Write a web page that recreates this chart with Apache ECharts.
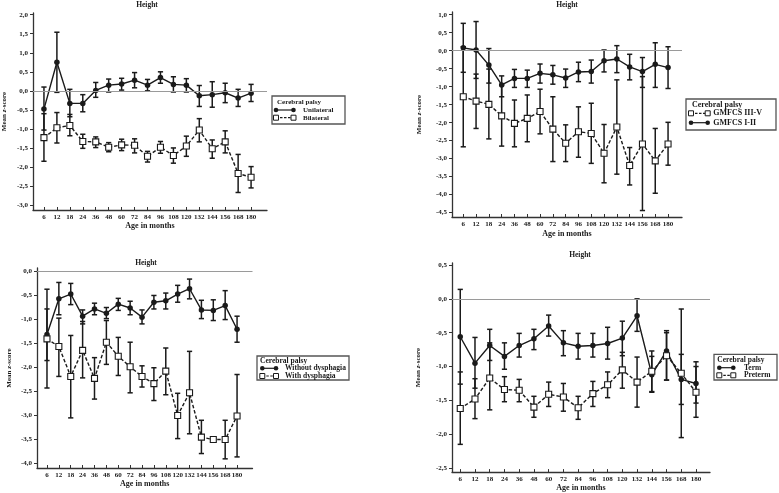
<!DOCTYPE html>
<html><head><meta charset="utf-8">
<script src="https://cdn.jsdelivr.net/npm/echarts@6/dist/echarts.min.js"></script>
<style>html,body{margin:0;padding:0;background:#fff}#c{width:779px;height:493px}</style>
</head><body><div id="c"></div>
<script>
// ---- categories ----
const months = ['6','12','18','24','36','48','60','72','84','96','108','120','132','144','156','168','180'];

// ---- Panel 1: Unilateral / Bilateral ----
const uniMean = [-0.48, 0.75, -0.33, -0.33, 0.01, 0.15, 0.18, 0.28, 0.15, 0.35, 0.17, 0.15, -0.13, -0.10, -0.05, -0.19, -0.06];
const uniHigh = [0.10, 1.54, 0.04, -0.10, 0.22, 0.31, 0.33, 0.48, 0.30, 0.50, 0.37, 0.32, 0.14, 0.24, 0.20, 0.04, 0.17];
const uniLow  = [-1.03, -0.04, -0.68, -0.55, -0.17, -0.03, 0.02, 0.08, 0.00, 0.20, -0.03, -0.03, -0.41, -0.43, -0.31, -0.41, -0.28];
const bilMean = [-1.23, -0.97, -0.91, -1.33, -1.34, -1.48, -1.42, -1.43, -1.72, -1.48, -1.70, -1.45, -1.03, -1.52, -1.34, -2.17, -2.27];
const bilHigh = [-0.60, -0.57, -0.62, -1.14, -1.21, -1.36, -1.27, -1.26, -1.59, -1.33, -1.50, -1.19, -0.73, -1.29, -1.05, -1.67, -1.99];
const bilLow  = [-1.85, -1.37, -1.18, -1.51, -1.49, -1.60, -1.57, -1.63, -1.87, -1.64, -1.90, -1.72, -1.34, -1.77, -1.63, -2.67, -2.55];

// ---- Panel 2: GMFCS I-II / GMFCS III-V ----
const g12Mean = [0.08, 0.02, -0.40, -0.95, -0.77, -0.77, -0.63, -0.67, -0.76, -0.59, -0.58, -0.28, -0.23, -0.45, -0.58, -0.38, -0.47];
const g12High = [0.76, 0.81, 0.06, -0.70, -0.52, -0.54, -0.37, -0.41, -0.51, -0.32, -0.26, 0.02, 0.14, -0.10, -0.19, 0.22, 0.11];
const g12Low  = [-0.60, -0.77, -0.90, -1.28, -1.02, -1.02, -0.90, -0.93, -1.02, -0.86, -0.90, -0.59, -0.61, -0.81, -1.02, -1.02, -1.05];
const g35Mean = [-1.28, -1.40, -1.49, -1.81, -2.02, -1.88, -1.69, -2.18, -2.57, -2.25, -2.30, -2.85, -2.12, -3.19, -2.59, -3.06, -2.59];
const g35High = [0.11, -0.65, -0.51, -0.95, -1.37, -1.23, -1.07, -1.28, -2.06, -1.56, -1.46, -2.05, -0.81, -2.69, -0.72, -2.16, -1.99];
const g35Low  = [-2.67, -2.16, -2.45, -2.65, -2.67, -2.53, -2.31, -3.08, -3.08, -2.96, -3.13, -3.67, -3.43, -3.73, -4.44, -3.96, -3.18];

// ---- Panel 3: Without / With dysphagia ----
const woMean = [-1.32, -0.58, -0.48, -0.94, -0.79, -0.88, -0.69, -0.77, -0.96, -0.65, -0.62, -0.48, -0.37, -0.81, -0.82, -0.72, -1.21];
const woHigh = [-0.79, -0.24, -0.26, -0.81, -0.67, -0.76, -0.57, -0.63, -0.81, -0.51, -0.46, -0.30, -0.17, -0.61, -0.60, -0.41, -0.94];
const woLow  = [-1.86, -0.91, -0.70, -1.10, -0.91, -0.99, -0.82, -0.91, -1.10, -0.79, -0.79, -0.65, -0.58, -0.99, -1.03, -1.01, -1.48];
const wdMean = [-1.41, -1.57, -2.19, -1.65, -2.23, -1.48, -1.77, -1.99, -2.19, -2.34, -2.08, -3.00, -2.53, -3.45, -3.50, -3.50, -3.01];
const wdHigh = [-0.38, -0.98, -1.34, -1.05, -1.80, -1.03, -1.38, -1.48, -1.97, -2.01, -1.60, -2.54, -1.67, -3.10, null, -3.10, -2.15];
const wdLow  = [-2.43, -2.19, -3.05, -2.22, -2.66, -1.94, -2.17, -2.53, -2.41, -2.69, -2.57, -3.48, -3.38, -3.79, null, -3.90, -3.86];

// ---- Panel 4: Term / Preterm ----
const termMean = [-0.56, -0.95, -0.69, -0.85, -0.69, -0.59, -0.40, -0.65, -0.70, -0.69, -0.66, -0.58, -0.25, -1.12, -0.77, -1.19, -1.25];
const termHigh = [0.14, -0.57, -0.45, -0.65, -0.51, -0.45, -0.24, -0.47, -0.51, -0.51, -0.42, -0.33, 0.00, -0.85, -0.50, -0.82, -0.93];
const termLow  = [-1.26, -1.32, -0.91, -1.04, -0.86, -0.75, -0.55, -0.84, -0.89, -0.86, -0.89, -0.84, -0.48, -1.38, -1.20, -1.56, -1.54];
const preMean = [-1.62, -1.48, -1.17, -1.34, -1.35, -1.60, -1.41, -1.45, -1.61, -1.40, -1.27, -1.05, -1.23, -1.07, -0.84, -1.10, -1.38];
const preHigh = [-1.08, -1.18, -0.65, -1.15, -1.19, -1.44, -1.23, -1.25, -1.44, -1.22, -1.08, -0.79, -0.86, -0.77, -0.47, -0.15, -1.00];
const preLow  = [-2.15, -1.77, -1.64, -1.52, -1.52, -1.75, -1.59, -1.66, -1.78, -1.59, -1.46, -1.32, -1.60, -1.37, -1.20, -2.05, -1.75];

// ---- text ----
const titleText = 'Height';
const xName = 'Age in months';
const legendTitle = 'Cerebral palsy';

const FONT = '"Liberation Serif", "DejaVu Serif", serif';
const INK = '#1a1a1a';
const idx = months.map((m, i) => i);

function fmt(v) {
  if (Math.abs(v) < 1e-9) return '0,0';
  return v.toFixed(1).replace('.', ',');
}
function range(a, b, s) { const r = []; for (let v = a; v <= b + 1e-9; v += s) r.push(Math.round(v * 10) / 10); return r; }

const panels = [
  { grid: {left: 32, top: 13, width: 235, height: 197}, xmin: -0.846, xmax: 17.23, ymin: -3.13, ymax: 2.045,
    yt: range(-3, 2, 0.5), yGap: 25, xGap: 12, title: [147, 5],
    series: [
      {name: 'Unilateral', mean: uniMean, hi: uniHigh, lo: uniLow, filled: true},
      {name: 'Bilateral', mean: bilMean, hi: bilHigh, lo: bilLow, filled: false}],
    zero: true },
  { grid: {left: 452, top: 12, width: 230, height: 205}, xmin: -0.88, xmax: 17.09, ymin: -4.62, ymax: 1.075,
    yt: range(-4.5, 1, 0.5), yGap: 29, xGap: 13, title: [567, 5],
    series: [
      {name: 'GMFCS I-II', mean: g12Mean, hi: g12High, lo: g12Low, filled: true},
      {name: 'GMFCS III-V', mean: g35Mean, hi: g35High, lo: g35Low, filled: false}],
    zero: true },
  { grid: {left: 37, top: 268, width: 215.5, height: 200}, xmin: -0.84, xmax: 17.3, ymin: -4.09, ymax: 0.06,
    yt: range(-4, 0, 0.5), yGap: 24, xGap: 10, title: [146, 263],
    series: [
      {name: 'Without dysphagia', mean: woMean, hi: woHigh, lo: woLow, filled: true},
      {name: 'With dysphagia', mean: wdMean, hi: wdHigh, lo: wdLow, filled: false}],
    zero: true },
  { grid: {left: 452, top: 263, width: 258, height: 210}, xmin: -0.56, xmax: 16.95, ymin: -2.56, ymax: 0.53,
    yt: range(-2.5, 0.5, 0.5), yGap: 30, xGap: 10, title: [580, 255],
    series: [
      {name: 'Term', mean: termMean, hi: termHigh, lo: termLow, filled: true},
      {name: 'Preterm', mean: preMean, hi: preHigh, lo: preLow, filled: false}],
    zero: true }
];

const grids = [], xAxes = [], yAxes = [], series = [], graphics = [];

panels.forEach((p, k) => {
  grids.push(Object.assign({containLabel: false}, p.grid));
  xAxes.push({
    type: 'value', gridIndex: k, min: p.xmin, max: p.xmax,
    name: xName, nameLocation: 'middle', nameGap: p.xGap,
    nameTextStyle: {fontFamily: FONT, fontWeight: 'bold', fontSize: 8, color: INK, verticalAlign: 'top'},
    axisLine: {show: true, onZero: false, lineStyle: {color: '#333', width: 1.3}},
    axisTick: {show: true, inside: true, length: 3, customValues: idx, lineStyle: {color: '#333', width: 1}},
    axisLabel: {customValues: idx, formatter: v => months[Math.round(v)], fontFamily: FONT, fontWeight: 'bold',
      fontSize: 7, color: INK, margin: 4},
    splitLine: {show: false}
  });
  yAxes.push({
    type: 'value', gridIndex: k, min: p.ymin, max: p.ymax,
    name: '{b|Mean }{i|z}{b|-score}', nameLocation: 'middle', nameGap: p.yGap, nameRotate: 90,
    nameTextStyle: {rich: {
      b: {fontFamily: FONT, fontWeight: 'bold', fontSize: 7, color: INK},
      i: {fontFamily: FONT, fontWeight: 'bold', fontStyle: 'italic', fontSize: 7, color: INK}}},
    axisLine: {show: true, onZero: false, lineStyle: {color: '#333', width: 1.3}},
    axisTick: {show: true, inside: false, length: 3, customValues: p.yt, lineStyle: {color: '#333', width: 1}},
    axisLabel: {customValues: p.yt, formatter: fmt, fontFamily: FONT, fontWeight: 'bold', fontSize: 7, color: INK, margin: 5},
    splitLine: {show: false}
  });
  p.series.forEach((s, j) => {
    const ebData = [];
    s.mean.forEach((m, i) => { if (s.lo[i] != null && s.hi[i] != null) ebData.push([i, s.lo[i], s.hi[i]]); });
    series.push({
      type: 'custom', name: s.name + ' SD', xAxisIndex: k, yAxisIndex: k, z: 2, silent: true,
      encode: {x: 0, y: [1, 2]},
      data: ebData,
      renderItem: function (params, api) {
        const x = api.value(0);
        const a = api.coord([x, api.value(2)]);
        const b = api.coord([x, api.value(1)]);
        const w = 2.6;
        const st = {stroke: '#1a1a1a', lineWidth: 1.5};
        return {type: 'group', children: [
          {type: 'line', shape: {x1: a[0], y1: a[1], x2: b[0], y2: b[1]}, style: st},
          {type: 'line', shape: {x1: a[0] - w, y1: a[1], x2: a[0] + w, y2: a[1]}, style: st},
          {type: 'line', shape: {x1: b[0] - w, y1: b[1], x2: b[0] + w, y2: b[1]}, style: st}
        ]};
      }
    });
    const line = {
      type: 'line', name: s.name, xAxisIndex: k, yAxisIndex: k, z: 3,
      data: s.mean.map((m, i) => [i, m]),
      symbol: s.filled ? 'circle' : 'rect',
      symbolSize: s.filled ? 5.5 : 6,
      showSymbol: true,
      lineStyle: {color: '#1a1a1a', width: 1.4, type: s.filled ? 'solid' : [3.5, 2]},
      itemStyle: s.filled ? {color: '#1a1a1a'} : {color: '#fff', borderColor: '#1a1a1a', borderWidth: 1.1},
      animation: false
    };
    if (j === 0 && p.zero) {
      line.markLine = {silent: true, symbol: 'none', label: {show: false},
        lineStyle: {color: '#9a9a9a', type: 'solid', width: 1.1}, data: [{yAxis: 0}], animation: false};
    }
    series.push(line);
  });
  graphics.push({type: 'text', x: p.title[0], y: p.title[1],
    style: {text: titleText, fontFamily: FONT, fontWeight: 'bold', fontSize: 7.5, fill: INK, align: 'center', verticalAlign: 'middle'}});
});

// ---- legends ----
function legendBox(box, titlePos, fs, rows) {
  const ch = [];
  ch.push({type: 'rect', shape: {x: box[0], y: box[1], width: box[2], height: box[3]},
    style: {fill: '#fff', stroke: '#555', lineWidth: 1.3}});
  ch.push({type: 'text', x: titlePos[0], y: titlePos[1],
    style: {text: legendTitle, fontFamily: FONT, fontWeight: 'bold', fontSize: fs, fill: INK, align: 'left', verticalAlign: 'middle'}});
  rows.forEach(r => {
    ch.push({type: 'line', shape: {x1: r.x1, y1: r.y, x2: r.x2, y2: r.y},
      style: {stroke: '#1a1a1a', lineWidth: 1.2, lineDash: r.filled ? null : [2.5, 1.5]}});
    [r.x1, r.x2].forEach(x => {
      if (r.filled) ch.push({type: 'circle', shape: {cx: x, cy: r.y, r: 2.3}, style: {fill: '#1a1a1a'}});
      else ch.push({type: 'rect', shape: {x: x - 2.5, y: r.y - 2.5, width: 5, height: 5}, style: {fill: '#fff', stroke: '#1a1a1a', lineWidth: 1}});
    });
    ch.push({type: 'text', x: r.tx, y: r.y,
      style: {text: r.text, fontFamily: FONT, fontWeight: 'bold', fontSize: fs, fill: INK, align: 'left', verticalAlign: 'middle'}});
  });
  return {type: 'group', children: ch, z: 10};
}

graphics.push(legendBox([272, 96, 73, 28], [277, 102], 7, [
  {y: 110, x1: 276, x2: 293.5, tx: 303, text: 'Unilateral', filled: true},
  {y: 117.7, x1: 276, x2: 293.5, tx: 303, text: 'Bilateral', filled: false}]));
graphics.push(legendBox([686, 99, 90, 31], [692, 104.5], 8, [
  {y: 113.3, x1: 691, x2: 707.7, tx: 713.3, text: 'GMFCS III-V', filled: false},
  {y: 122.7, x1: 691, x2: 707.7, tx: 713.3, text: 'GMFCS I-II', filled: true}]));
graphics.push(legendBox([257, 356, 92, 24], [260, 361], 7.5, [
  {y: 368.3, x1: 262.3, x2: 276, tx: 285, text: 'Without dysphagia', filled: true},
  {y: 376, x1: 262.3, x2: 276, tx: 285, text: 'With dysphagia', filled: false}]));
graphics.push(legendBox([714, 354.3, 63, 25.7], [717.3, 360], 7.5, [
  {y: 367.7, x1: 719.3, x2: 733.3, tx: 744, text: 'Term', filled: true},
  {y: 375.3, x1: 719.3, x2: 733.3, tx: 744, text: 'Preterm', filled: false}]));

const chart = echarts.init(document.getElementById('c'), null, {renderer: 'canvas'});
chart.setOption({
  backgroundColor: '#fff',
  animation: false,
  grid: grids, xAxis: xAxes, yAxis: yAxes, series: series,
  graphic: graphics
});
</script>
</body></html>
